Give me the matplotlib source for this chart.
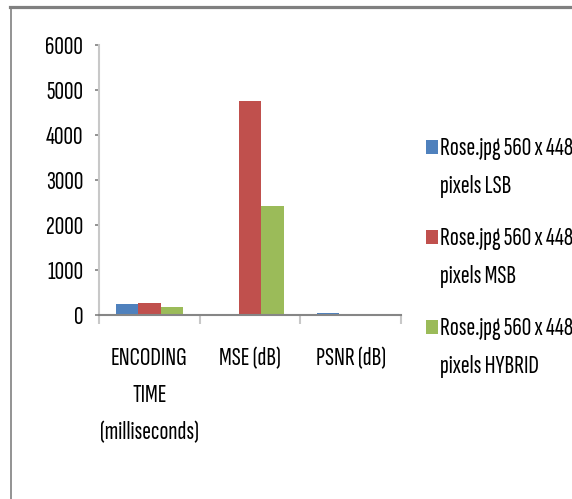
import numpy as np
import matplotlib
matplotlib.use("Agg")
import matplotlib.pyplot as plt
from matplotlib.lines import Line2D
from matplotlib.patches import Rectangle

# Data
categories = ["ENCODING\nTIME\n(milliseconds)", "MSE (dB)", "PSNR (dB)"]
series_names = [
    "Rose.jpg 560 x 448\npixels LSB",
    "Rose.jpg 560 x 448\npixels MSB",
    "Rose.jpg 560 x 448\npixels HYBRID",
]
lsb_values = [245, 0.6, 48]
msb_values = [268, 4760, 11]
hybrid_values = [178, 2430, 14]
y_ticks = [0, 1000, 2000, 3000, 4000, 5000, 6000]

colors = ["#4F81BD", "#C0504D", "#9BBB59"]

plt.rcParams["font.family"] = ["Sofia Sans Extra Condensed", "Carlito", "DejaVu Sans"]
FS = 19
LINE_GAP = 37  # px between text lines

W, H = 572, 499
fig = plt.figure(figsize=(W / 100, H / 100), dpi=100)


def px(xp, yp):
    """pixel position (from top-left) -> figure fraction"""
    return xp / W, 1 - yp / H


# plot area in pixels: x 99..401, y 45..315
ax = fig.add_axes([99 / W, 1 - 315 / H, (401 - 99) / W, (315 - 45) / H])

x = np.arange(len(categories)) + 0.5
bw = 1 / 4.5
for i, vals in enumerate([lsb_values, msb_values, hybrid_values]):
    ax.bar(x + (i - 1) * bw, vals, width=bw, color=colors[i], linewidth=0)

ax.set_xlim(0, 3)
ax.set_ylim(0, 6000)
ax.set_yticks(y_ticks)
ax.set_yticklabels([str(v) for v in y_ticks], fontsize=FS)
ax.tick_params(axis="y", length=3, width=1.2, color="#7f7f7f", pad=8.5)

# category boundary ticks (below axis), labels at centres
ax.set_xticks([0, 1, 2, 3])
ax.set_xticklabels([])
ax.tick_params(axis="x", length=6.5, width=1.5, color="#c8c8c8", direction="out")
for xi, lab in zip(x, categories):
    xf = ax.transData.transform((xi, 0))[0] / W
    for k, line in enumerate(lab.split("\n")):
        fig.text(xf, 1 - (365 + k * LINE_GAP) / H, line, ha="center",
                 va="baseline", fontsize=FS)

for s in ["top", "right"]:
    ax.spines[s].set_visible(False)
ax.spines["left"].set_color("#c8c8c8")
ax.spines["left"].set_linewidth(1.5)
ax.spines["bottom"].set_color("#868686")
ax.spines["bottom"].set_linewidth(1.5)

# outer chart frame: top and left edges only
fig.add_artist(Line2D([10 / W, 1], [1 - 7 / H, 1 - 7 / H], color="#808080", lw=2.3,
                      transform=fig.transFigure))
fig.add_artist(Line2D([10.5 / W, 10.5 / W], [0, 1 - 7 / H], color="#808080", lw=1.2,
                      transform=fig.transFigure))

# legend
first_line_y = [147, 237, 327]
for name, c, yy in zip(series_names, colors, first_line_y):
    fig.add_artist(Rectangle(px(426, yy + 7), 12 / W, 14 / H,
                             facecolor=c, edgecolor="none", transform=fig.transFigure))
    for k, line in enumerate(name.split("\n")):
        fig.text(*px(440, yy + 8.5 + k * LINE_GAP), line, ha="left",
                 va="baseline", fontsize=FS)

fig.savefig("out.png", dpi=100)
